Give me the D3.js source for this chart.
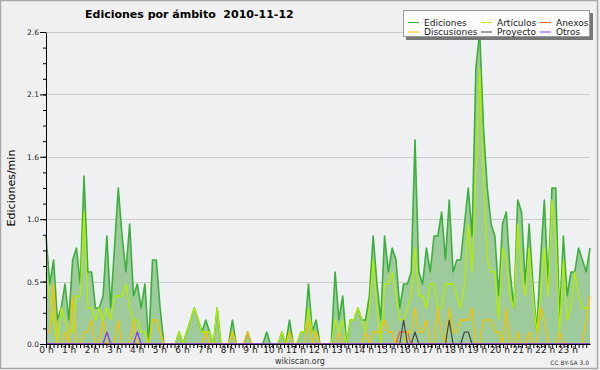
<!DOCTYPE html>
<html>
<head>
<meta charset="utf-8">
<script src="https://cdn.jsdelivr.net/npm/d3@7"></script>
<style>
  body { margin: 0; background: #f0f0f0; }
  svg { display: block; }
  text { font-family: "DejaVu Sans", sans-serif; }
</style>
</head>
<body>
<script>
// Datos: ediciones por minuto, tramos de 10 minutos (144 por día)
const etiquetasHoras = ["0 h", "1 h", "2 h", "3 h", "4 h", "5 h", "6 h", "7 h", "8 h", "9 h", "10 h", "11 h",
  "12 h", "13 h", "14 h", "15 h", "16 h", "17 h", "18 h", "19 h", "20 h", "21 h", "22 h", "23 h"];
const ticksY = [0, 0.52, 1.04, 1.56, 2.08, 2.6];

const ediciones = [
  0.9, 0.5, 0.7, 0.2, 0.3, 0.5, 0.2, 0.7, 0.8, 0.5, 1.4, 0.6, 0.6, 0.3, 0.3, 0.4,
  0.9, 0.3, 0.8, 1.3, 0.9, 0.6, 1.0, 0.4, 0.5, 0.3, 0.5, 0.0, 0.7, 0.7, 0.3, 0.0,
  0.0, 0.0, 0.0, 0.1, 0.0, 0.1, 0.2, 0.3, 0.2, 0.1, 0.2, 0.1, 0.0, 0.3, 0.0, 0.0,
  0.0, 0.2, 0.0, 0.0, 0.0, 0.1, 0.0, 0.0, 0.0, 0.0, 0.1, 0.0, 0.0, 0.0, 0.1, 0.0,
  0.2, 0.0, 0.0, 0.1, 0.1, 0.5, 0.1, 0.2, 0.0, 0.0, 0.0, 0.0, 0.6, 0.2, 0.4, 0.0,
  0.2, 0.2, 0.3, 0.2, 0.2, 0.4, 0.9, 0.5, 0.2, 0.9, 0.6, 0.8, 0.7, 0.3, 0.5, 0.5,
  0.6, 1.7, 0.6, 0.5, 0.8, 0.6, 0.9, 0.9, 1.1, 0.7, 1.2, 0.6, 0.7, 0.7, 1.0, 1.3,
  0.9, 2.3, 2.6, 1.8, 1.3, 1.0, 0.9, 0.4, 1.0, 1.1, 0.6, 0.3, 1.2, 1.1, 0.5, 1.0,
  0.5, 0.1, 0.7, 1.2, 0.5, 1.3, 1.3, 0.2, 0.9, 0.4, 0.6, 0.6, 0.8, 0.7, 0.6, 0.8
];
const articulos = [
  0.6, 0.4, 0.2, 0.0, 0.3, 0.2, 0.1, 0.1, 0.4, 0.4, 1.1, 0.3, 0.3, 0.2, 0.3, 0.2,
  0.3, 0.2, 0.4, 0.4, 0.4, 0.5, 0.3, 0.2, 0.2, 0.1, 0.1, 0.0, 0.2, 0.2, 0.1, 0.0,
  0.0, 0.0, 0.0, 0.1, 0.0, 0.1, 0.2, 0.3, 0.2, 0.1, 0.1, 0.1, 0.0, 0.3, 0.0, 0.0,
  0.0, 0.1, 0.0, 0.0, 0.0, 0.0, 0.0, 0.0, 0.0, 0.0, 0.0, 0.0, 0.0, 0.0, 0.1, 0.0,
  0.1, 0.0, 0.0, 0.1, 0.1, 0.3, 0.1, 0.1, 0.0, 0.0, 0.0, 0.0, 0.2, 0.1, 0.2, 0.0,
  0.2, 0.2, 0.3, 0.2, 0.1, 0.3, 0.7, 0.3, 0.0, 0.5, 0.5, 0.6, 0.4, 0.2, 0.2, 0.3,
  0.4, 0.8, 0.4, 0.4, 0.3, 0.5, 0.5, 0.3, 0.3, 0.5, 0.5, 0.5, 0.4, 0.3, 0.5, 1.0,
  0.6, 1.4, 2.3, 1.4, 0.7, 0.6, 0.6, 0.2, 0.8, 0.7, 0.4, 0.3, 1.0, 0.6, 0.4, 0.8,
  0.4, 0.1, 0.4, 0.8, 0.4, 1.2, 0.9, 0.1, 0.7, 0.2, 0.3, 0.6, 0.4, 0.3, 0.3, 0.3
];
const discusiones = [
  0.1, 0.1, 0.5, 0.0, 0.0, 0.1, 0.0, 0.4, 0.0, 0.0, 0.1, 0.1, 0.2, 0.0, 0.0, 0.2,
  0.0, 0.0, 0.0, 0.2, 0.0, 0.0, 0.0, 0.2, 0.0, 0.0, 0.0, 0.0, 0.2, 0.2, 0.1, 0.0,
  0.0, 0.0, 0.0, 0.0, 0.0, 0.0, 0.0, 0.0, 0.0, 0.0, 0.1, 0.0, 0.0, 0.0, 0.0, 0.0,
  0.0, 0.1, 0.0, 0.0, 0.0, 0.1, 0.0, 0.0, 0.0, 0.0, 0.0, 0.0, 0.0, 0.0, 0.0, 0.0,
  0.1, 0.0, 0.0, 0.0, 0.0, 0.2, 0.0, 0.1, 0.0, 0.0, 0.0, 0.0, 0.0, 0.1, 0.0, 0.0,
  0.0, 0.0, 0.0, 0.0, 0.1, 0.0, 0.1, 0.1, 0.1, 0.2, 0.1, 0.1, 0.0, 0.0, 0.0, 0.1,
  0.1, 0.3, 0.1, 0.1, 0.2, 0.0, 0.0, 0.3, 0.1, 0.0, 0.3, 0.1, 0.1, 0.2, 0.2, 0.2,
  0.3, 0.0, 0.0, 0.2, 0.2, 0.2, 0.1, 0.1, 0.0, 0.3, 0.0, 0.0, 0.1, 0.0, 0.0, 0.1,
  0.0, 0.0, 0.3, 0.2, 0.0, 0.0, 0.0, 0.1, 0.0, 0.0, 0.0, 0.0, 0.0, 0.0, 0.2, 0.4
];
// Series casi vacías: índice del tramo y valor
const anexosTramos = [93, 94, 95];
const anexosValores = [0.1, 0.1, 0.1];
const proyectoTramos = [94, 97, 106, 110, 111];
const proyectoValores = [0.2, 0.1, 0.2, 0.1, 0.1];
const otrosTramos = [16, 24];
const otrosValores = [0.1, 0.1];

const nTramos = ediciones.length;
function disperso(tramos, valores) {
  const out = new Array(nTramos).fill(0);
  tramos.forEach((t, k) => { out[t] = valores[k]; });
  return out;
}
const anexos = disperso(anexosTramos, anexosValores);
const proyecto = disperso(proyectoTramos, proyectoValores);
const otros = disperso(otrosTramos, otrosValores);

const width = 600, height = 370;
const mLeft = 46, mRight = 590, mTop = 32, mBottom = 344;

const svg = d3.select("body").append("svg")
  .attr("width", width)
  .attr("height", height);

// fondo y marco
svg.append("rect").attr("width", width).attr("height", height).attr("fill", "#f0f0f0");
svg.append("rect").attr("x", 0.5).attr("y", 0.5).attr("width", width - 3).attr("height", height - 2)
  .attr("fill", "none").attr("stroke", "#a8a8a8").attr("stroke-width", 1.5);
svg.append("rect").attr("x", mLeft).attr("y", mTop).attr("width", mRight - mLeft).attr("height", mBottom - mTop)
  .attr("fill", "#eef0f2");

// escalas
const xh = d3.scaleLinear().domain([0, 24]).range([mLeft, mRight]);
const x = d3.scaleLinear().domain([0, nTramos - 1]).range([mLeft, mRight]);
const y = d3.scaleLinear().domain([0, 2.6]).range([mBottom, mTop]);

// rejilla
svg.append("g").selectAll("line")
  .data(ticksY.slice(1))
  .enter().append("line")
  .attr("x1", mLeft).attr("x2", mRight)
  .attr("y1", d => Math.round(y(d)) + 0.5).attr("y2", d => Math.round(y(d)) + 0.5)
  .attr("stroke", "#cbcbcb");

// área y líneas
const area = d3.area().x((d, i) => x(i)).y0(y(0)).y1(d => y(d));
const line = d3.line().x((d, i) => x(i)).y(d => y(d));

svg.append("path").datum(ediciones)
  .attr("d", area).attr("fill", "#9ecb9b");

const series = [
  { nombre: "Ediciones", valores: ediciones, color: "#3daf3d", ancho: 1.6 },
  { nombre: "Artículos", valores: articulos, color: "#b4ee00", ancho: 1.3 },
  { nombre: "Anexos", valores: anexos, color: "#f2603a", ancho: 1.3 },
  { nombre: "Discusiones", valores: discusiones, color: "#f4c400", ancho: 1.3 },
  { nombre: "Proyecto", valores: proyecto, color: "#444444", ancho: 1.2 },
  { nombre: "Otros", valores: otros, color: "#8a3ef0", ancho: 1.3 }
];

series.forEach(s => {
  svg.append("path").datum(s.valores)
    .attr("d", line)
    .attr("fill", "none")
    .attr("stroke", s.color)
    .attr("stroke-width", s.ancho)
    .attr("stroke-linejoin", "round");
});

// eje y
const yAxis = svg.append("g").attr("transform", `translate(${mLeft},0)`);
yAxis.call(d3.axisLeft(y).tickValues(ticksY).tickFormat(d3.format(".1f")).tickSize(6).tickSizeOuter(0).tickPadding(1));
svg.append("g").attr("transform", `translate(${mLeft},0)`)
  .call(d3.axisLeft(y).tickValues(d3.range(0, 20).map(k => k * 0.13)).tickFormat("").tickSize(3).tickSizeOuter(0))
  .select(".domain").remove();
yAxis.selectAll("text").style("font-size", "7.5px").attr("fill", "#222");

// eje x
const xAxis = svg.append("g").attr("transform", `translate(0,${mBottom})`);
xAxis.call(d3.axisBottom(xh).tickValues(d3.range(0, 24)).tickFormat((d, i) => etiquetasHoras[i]).tickSize(4).tickSizeOuter(0));
xAxis.selectAll("text").style("font-size", "9px").attr("fill", "#222").attr("y", 3);
svg.append("g").attr("transform", `translate(0,${mBottom})`)
  .call(d3.axisBottom(xh).tickValues(d3.range(0, 144).map(k => k / 6)).tickFormat("").tickSize(4).tickSizeOuter(0))
  .select(".domain").remove();

// títulos
svg.append("text").attr("x", 85).attr("y", 18)
  .style("font-size", "11px").style("font-weight", "bold")
  .style("white-space", "pre")
  .text("Ediciones por ámbito  2010-11-12");

svg.append("text")
  .attr("transform", `translate(15,${(mTop + mBottom) / 2}) rotate(-90)`)
  .attr("text-anchor", "middle")
  .style("font-size", "11px")
  .text("Ediciones/min");

svg.append("text").attr("x", 300).attr("y", 364).attr("text-anchor", "middle")
  .style("font-size", "8px").attr("fill", "#333").text("wikiscan.org");
svg.append("text").attr("x", 589).attr("y", 365).attr("text-anchor", "end")
  .style("font-size", "6px").attr("fill", "#333").text("CC BY-SA 3.0");

// leyenda
const leyenda = svg.append("g").attr("transform", "translate(403,10)");
leyenda.append("rect").attr("x", 3).attr("y", 3).attr("width", 187).attr("height", 27).attr("fill", "#777");
leyenda.append("rect").attr("x", 0.5).attr("y", 0.5).attr("width", 186).attr("height", 26)
  .attr("fill", "#fbfbfb").attr("stroke", "#999");
const ordenLeyenda = [0, 1, 2, 3, 4, 5];
const colX = [5, 78, 137];
const filaY = [12.5, 22];
const items = leyenda.selectAll(".legend-item")
  .data(ordenLeyenda.map(k => series[k]))
  .enter().append("g")
  .attr("transform", (d, i) => `translate(${colX[i % 3]},${filaY[Math.floor(i / 3)]})`);
items.append("line").attr("x1", 0).attr("x2", 11).attr("stroke", d => d.color).attr("stroke-width", 1);
items.append("text").attr("x", 16).attr("dy", "0.35em").style("font-size", "9px").attr("fill", "#222")
  .text(d => d.nombre);
</script>
</body>
</html>
